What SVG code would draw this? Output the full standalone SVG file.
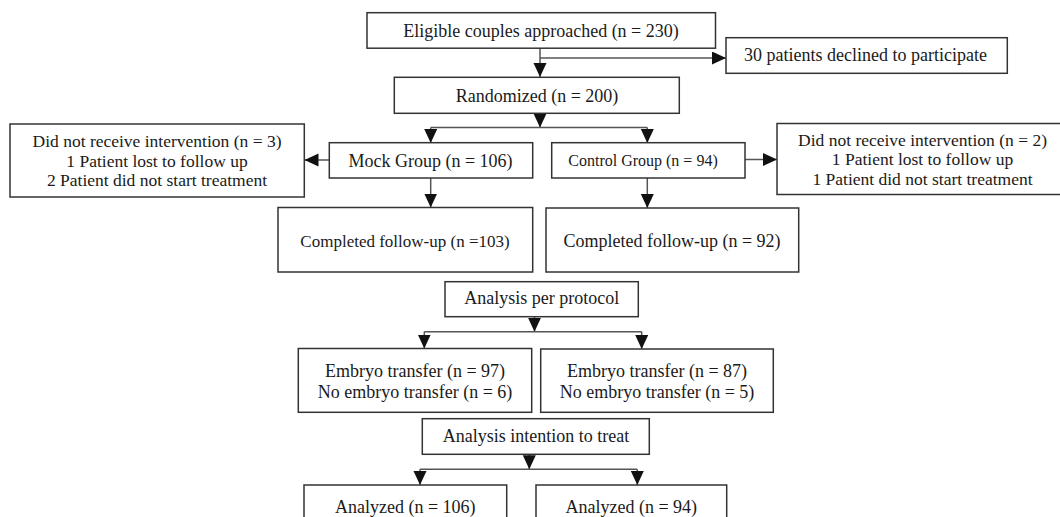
<svg xmlns="http://www.w3.org/2000/svg" width="1060" height="517" viewBox="0 0 1060 517">
<style>
.box{fill:#fff;stroke:#333;stroke-width:1.5}
.t{font-family:"Liberation Serif","Times New Roman",serif;font-size:18px;fill:#1a1a1a;text-anchor:middle}
.s{font-size:16px}
.m{font-size:17.5px}
.c{fill:none;stroke:#555;stroke-width:1.5}
</style>
<defs>
<marker id="ah" markerUnits="userSpaceOnUse" markerWidth="15" markerHeight="14" refX="14" refY="6.5" orient="auto">
<path d="M0,0 L14,6.5 L0,13 Z" fill="#111"/>
</marker>
</defs>
<rect width="1060" height="517" fill="#fff"/>
<g id="connectors">
<path class="c" d="M540,48 V77" marker-end="url(#ah)"/>
<path class="c" d="M540,58 H726" marker-end="url(#ah)"/>
<path class="c" d="M540,113 V127.5" marker-end="url(#ah)"/>
<path class="c" d="M430.7,127.5 H647.3"/>
<path class="c" d="M430.7,127.5 V143" marker-end="url(#ah)"/>
<path class="c" d="M647.3,127.5 V143" marker-end="url(#ah)"/>
<path class="c" d="M329,160 H304.5" marker-end="url(#ah)"/>
<path class="c" d="M745,159.5 H777" marker-end="url(#ah)"/>
<path class="c" d="M430.7,178 V207.5" marker-end="url(#ah)"/>
<path class="c" d="M647.3,178 V208" marker-end="url(#ah)"/>
<path class="c" d="M534.5,316.7 V331.7" marker-end="url(#ah)"/>
<path class="c" d="M424.3,331.7 H641.7"/>
<path class="c" d="M424.3,331.7 V348.5" marker-end="url(#ah)"/>
<path class="c" d="M641.7,331.7 V349" marker-end="url(#ah)"/>
<path class="c" d="M529.3,454.3 V469.3" marker-end="url(#ah)"/>
<path class="c" d="M420,469.3 H637.3"/>
<path class="c" d="M420,469.3 V485" marker-end="url(#ah)"/>
<path class="c" d="M637.3,469.3 V485" marker-end="url(#ah)"/>
</g>
<g id="eligible">
<rect class="box" x="367" y="12.7" width="348.5" height="35.5"/>
<text class="t" x="541" y="37">Eligible couples approached (n = 230)</text>
</g>
<g id="declined">
<rect class="box" x="726" y="37.7" width="281.3" height="35.6"/>
<text class="t" x="865.5" y="61">30 patients declined to participate</text>
</g>
<g id="randomized">
<rect class="box" x="394.3" y="77.3" width="285" height="36"/>
<text class="t" x="537" y="102">Randomized (n = 200)</text>
</g>
<g id="mock">
<rect class="box" x="329.3" y="142.7" width="203.4" height="35.3"/>
<text class="t" x="430.5" y="167">Mock Group (n = 106)</text>
</g>
<g id="control">
<rect class="box" x="551.7" y="142.7" width="193.3" height="35.3"/>
<text class="t s" x="643" y="166">Control Group (n = 94)</text>
</g>
<g id="mock-excluded">
<rect class="box" x="10" y="124" width="294.3" height="73"/>
<text class="t m" x="157" y="147"><tspan x="157">Did not receive intervention (n = 3)</tspan><tspan x="157" dy="19.5">1 Patient lost to follow up</tspan><tspan x="157" dy="19.5">2 Patient did not start treatment</tspan></text>
</g>
<g id="control-excluded">
<rect class="box" x="777" y="123.5" width="300" height="71"/>
<text class="t m" x="922.5" y="145.5"><tspan x="922.5">Did not receive intervention (n = 2)</tspan><tspan x="922.5" dy="19.5">1 Patient lost to follow up</tspan><tspan x="922.5" dy="19.5">1 Patient did not start treatment</tspan></text>
</g>
<g id="mock-completed">
<rect class="box" x="278" y="207.5" width="254.7" height="64.5"/>
<text class="t" x="405" y="246.5" style="font-size:17px">Completed follow-up (n =103)</text>
</g>
<g id="control-completed">
<rect class="box" x="546" y="208" width="252.7" height="64"/>
<text class="t" x="672" y="247">Completed follow-up (n = 92)</text>
</g>
<g id="per-protocol">
<rect class="box" x="445" y="281.7" width="193.3" height="35"/>
<text class="t" x="541.7" y="304">Analysis per protocol</text>
</g>
<g id="mock-embryo">
<rect class="box" x="298.3" y="348.5" width="233.4" height="63.8"/>
<text class="t" x="415" y="377"><tspan x="415">Embryo transfer (n = 97)</tspan><tspan x="415" dy="21">No embryo transfer (n = 6)</tspan></text>
</g>
<g id="control-embryo">
<rect class="box" x="540.7" y="349" width="232.6" height="63.3"/>
<text class="t" x="657" y="377"><tspan x="657">Embryo transfer (n = 87)</tspan><tspan x="657" dy="21">No embryo transfer (n = 5)</tspan></text>
</g>
<g id="itt">
<rect class="box" x="422.3" y="418.7" width="227" height="35.6"/>
<text class="t" x="536" y="442">Analysis intention to treat</text>
</g>
<g id="mock-analyzed">
<rect class="box" x="304" y="485" width="202.7" height="50"/>
<text class="t" x="405.3" y="513">Analyzed (n = 106)</text>
</g>
<g id="control-analyzed">
<rect class="box" x="536" y="485" width="190.7" height="50"/>
<text class="t" x="631.3" y="513">Analyzed (n = 94)</text>
</g>
</svg>
